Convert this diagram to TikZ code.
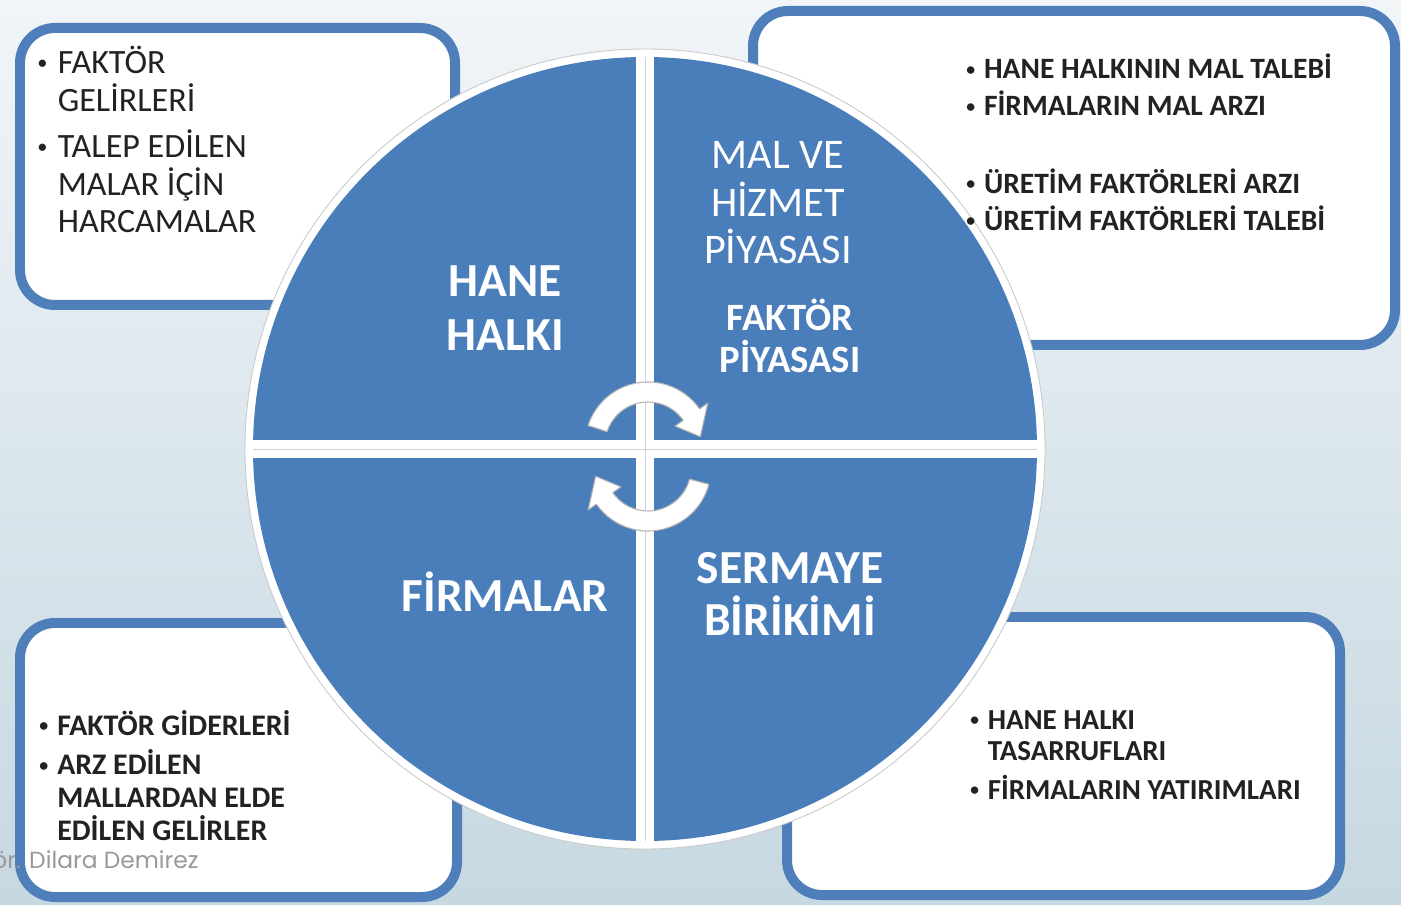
\documentclass[tikz,border=0pt]{standalone}
\usepackage{fontspec}
\setmainfont{Carlito}
\newfontfamily\footfont{Poppins}
\usetikzlibrary{calc}

\definecolor{quadblue}{HTML}{4A7EBB}
\definecolor{frameblue}{HTML}{4F7FBA}
\definecolor{bgtop}{HTML}{F1F5F8}
\definecolor{bgbottom}{HTML}{C6D8E1}
\definecolor{arrowgray}{HTML}{B4B4B4}
\definecolor{inktext}{HTML}{222222}

\newcommand{\itm}{\makebox[0.6em][l]{\raisebox{0.12em}{\scalebox{0.6}{\textbullet}}}}
\newcommand{\ind}{\hspace*{0.6em}}

\begin{document}
\begin{tikzpicture}[x=0.02cm, y=0.02cm,
        infobox/.style={draw=frameblue, line width=0.2cm, rounded corners=0.7cm, fill=white},
        quadlabel/.style={text=white, font=\bfseries\fontsize{27}{31}\selectfont, align=center, inner sep=0pt},
        boxtext/.style={text=inktext, anchor=base west, inner sep=0pt},
        turnarrow/.style={fill=white, draw=arrowgray, line width=0.6pt, line join=round}
    ]
        \useasboundingbox (0,0) rectangle (1401,904);
        \shade[top color=bgtop, bottom color=bgbottom] (0,0) rectangle (1401,904);

        % corner boxes
        \draw[infobox] (20,599) rectangle (455,876);
        \draw[infobox] (753,559) rectangle (1395,893);
        \draw[infobox] (20,7) rectangle (457,281);
        \draw[infobox] (787,9) rectangle (1340,287);

        % circle in four parts
        \coordinate (ctr) at (645,455);
        \fill[white] (ctr) circle (400);
        \draw[arrowgray!70, line width=0.5pt] (ctr) circle (400);
        \begin{scope}
            \clip (ctr) circle (392);
            \fill[quadblue] ($(ctr)+(9,9)$) rectangle ++(400,400);
            \fill[quadblue] ($(ctr)+(-9,9)$) rectangle ++(-400,400);
            \fill[quadblue] ($(ctr)+(-9,-9)$) rectangle ++(-400,-400);
            \fill[quadblue] ($(ctr)+(9,-9)$) rectangle ++(400,-400);
        \end{scope}
        \draw[arrowgray!60, line width=0.5pt] ($(ctr)+(-392,0)$) -- ($(ctr)+(392,0)$);
        \draw[arrowgray!60, line width=0.5pt] ($(ctr)+(0,-392)$) -- ($(ctr)+(0,392)$);

        % turning arrows
        \coordinate (topturn) at (648,459);
        \coordinate (botturn) at (648,436);
        \filldraw[turnarrow] ($(topturn)+(162:63)$) arc[start angle=162, end angle=35, radius=63]
            -- ($(topturn)+(35:73)$) -- ($(topturn)+(9:53)$) -- ($(topturn)+(35:33)$)
            -- ($(topturn)+(35:43)$) arc[start angle=35, end angle=162, radius=43] -- cycle;
        \filldraw[turnarrow] ($(botturn)+(-15:63)$) arc[start angle=-15, end angle=-145, radius=63]
            -- ($(botturn)+(-145:73)$) -- ($(botturn)+(-171:53)$) -- ($(botturn)+(-145:33)$)
            -- ($(botturn)+(-145:43)$) arc[start angle=-145, end angle=-15, radius=43] -- cycle;

        % quadrant labels
        \node[quadlabel] (hane) at (505,596) {HANE\\HALKI};
        \node[quadlabel] (firma) at (505,312) {FİRMALAR};
        \node[quadlabel, font=\bfseries\fontsize{27}{29.5}\selectfont] (sermaye) at (790,310) {SERMAYE\\BİRİKİMİ};
        \node[quadlabel, font=\fontsize{24}{27}\selectfont] (malhizmet) at (778,701) {MAL VE\\HİZMET\\PİYASASI};
        \node[quadlabel, font=\bfseries\fontsize{22}{24}\selectfont] (faktor) at (790,568) {FAKTÖR\\PİYASASI};

        % box texts
        \node[boxtext, font=\fontsize{19.4}{21.3}\selectfont] (hanetext) at (37,830)
            {\parbox[t]{9cm}{\itm FAKTÖR\\\ind GELİRLERİ\\[5pt]\itm TALEP EDİLEN\\\ind MALAR İÇİN\\\ind HARCAMALAR}};
        \node[boxtext, font=\bfseries\fontsize{16.8}{21}\selectfont] (piyasatext) at (966,825)
            {\parbox[t]{9cm}{\itm HANE HALKININ MAL TALEBİ\\\itm FİRMALARIN MAL ARZI\\[23pt]\itm ÜRETİM FAKTÖRLERİ ARZI\\\itm ÜRETİM FAKTÖRLERİ TALEBİ}};
        \node[boxtext, font=\bfseries\fontsize{17}{18.7}\selectfont] (firmatext) at (39,169)
            {\parbox[t]{9cm}{\itm FAKTÖR GİDERLERİ\\[4pt]\itm ARZ EDİLEN\\\ind MALLARDAN ELDE\\\ind EDİLEN GELİRLER}};
        \node[boxtext, font=\bfseries\fontsize{16.5}{18}\selectfont] (sermayetext) at (970,175)
            {\parbox[t]{9cm}{\itm HANE HALKI\\\ind TASARRUFLARI\\[4pt]\itm FİRMALARIN YATIRIMLARI}};

        % footer
        \node[anchor=base west, font=\footfont\fontsize{13.3}{15}\selectfont, text=gray!80, inner sep=0pt] (author) at (-8,36) {ör. Dilara Demirez};
    \end{tikzpicture}
\end{document}
